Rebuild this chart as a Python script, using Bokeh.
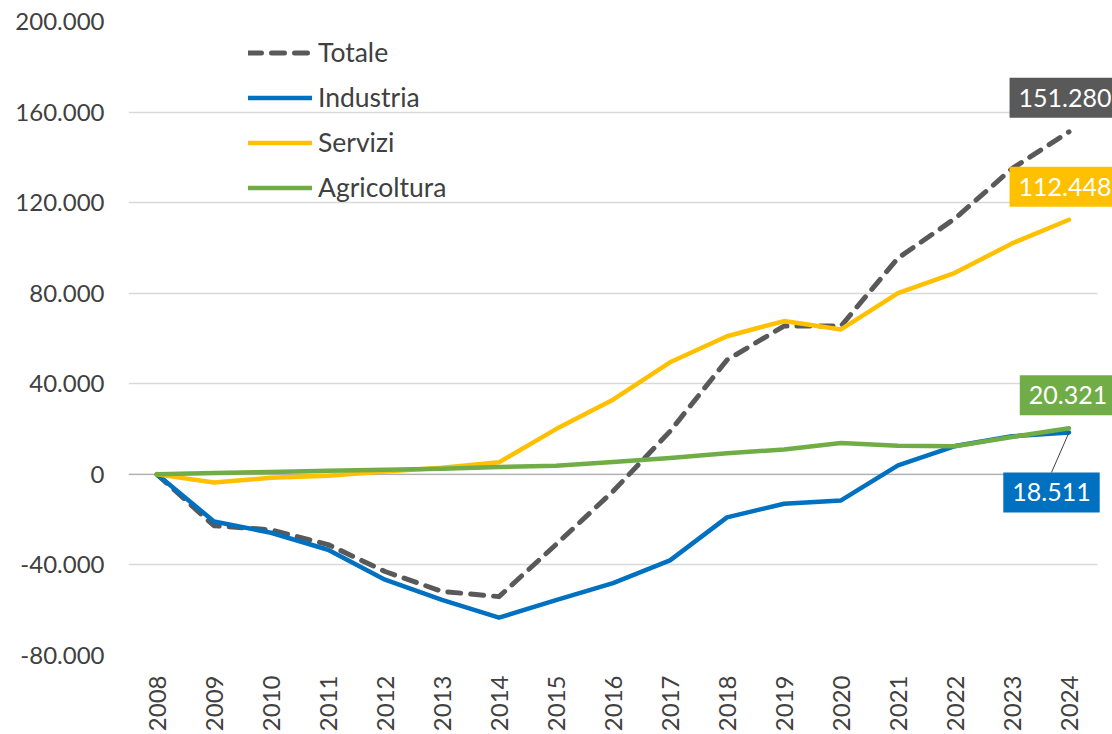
from math import pi
from bokeh.plotting import figure
from bokeh.models import (Range1d, FixedTicker, CustomJSTickFormatter, Label,
                          Legend, LegendItem, Span, BoxAnnotation)
from bokeh.embed import file_html
from bokeh.resources import INLINE

# ---------------- data ----------------
years = list(range(2008, 2025))
totale = [0, -22700, -24500, -31000, -42900, -51700, -54000, -31000, -7500,
          19000, 50500, 65500, 65500, 95500, 113000, 135000, 151280]
industria = [0, -20800, -25800, -33300, -46500, -55400, -63300, -55500, -48000,
             -38000, -19000, -13000, -11500, 4000, 12500, 16800, 18511]
servizi = [0, -3600, -1500, -600, 1300, 2900, 5300, 20000, 33000,
           49500, 61000, 67700, 64000, 80000, 89000, 102000, 112448]
agricoltura = [0, 600, 1000, 1600, 2000, 2500, 3300, 3800, 5500,
               7200, 9300, 11000, 13800, 12600, 12400, 16500, 20321]
y_ticks = [-80000, -40000, 0, 40000, 80000, 120000, 160000, 200000]
names = ["Totale", "Industria", "Servizi", "Agricoltura"]
end_labels = ["151.280", "18.511", "112.448", "20.321"]
colors = ["#595959", "#0070C0", "#FFC000", "#70AD47"]

FONT = "Lato"
TXT = "#404040"

plot_w, frame_h = 969, 634          # width of the category area, frame height
extra_r = 15                        # frame extends to canvas edge (for end labels)
y0, y1 = y_ticks[0], y_ticks[-1]
x_per_px = (years[-1] - years[0] + 1) / plot_w
y_per_px = (y1 - y0) / frame_h
x_start = years[0] - 0.5
x_stop = years[-1] + 0.5

p = figure(width=1112, height=732, frame_width=plot_w + extra_r, frame_height=frame_h,
           min_border_left=128, min_border_right=0, min_border_top=21,
           min_border_bottom=77, output_backend="svg", toolbar_location=None,
           x_range=Range1d(x_start, x_stop + extra_r * x_per_px),
           y_range=Range1d(y0, y1))
p.outline_line_color = None
p.background_fill_color = "white"
p.border_fill_color = "white"

# axes
p.xaxis.ticker = FixedTicker(ticks=years)
p.xaxis.major_label_orientation = pi / 2
p.xaxis.major_label_text_font = FONT
p.xaxis.major_label_text_font_size = "24px"
p.xaxis.major_label_text_color = TXT
p.xaxis.major_label_standoff = 20
p.xaxis.axis_line_color = None
p.xaxis.major_tick_line_color = None
p.xaxis.minor_tick_line_color = None
p.xaxis.major_tick_out = 0
p.xaxis.major_tick_in = 0

p.yaxis.ticker = FixedTicker(ticks=y_ticks)
p.yaxis.formatter = CustomJSTickFormatter(
    code="return tick.toLocaleString('en-US').replace(/,/g, '.')")
p.yaxis.major_label_text_font = FONT
p.yaxis.major_label_text_font_size = "24px"
p.yaxis.major_label_text_color = TXT
p.yaxis.major_label_standoff = 24
p.yaxis.axis_line_color = None
p.yaxis.major_tick_line_color = None
p.yaxis.minor_tick_line_color = None
p.yaxis.major_tick_out = 0
p.yaxis.major_tick_in = 0

p.xgrid.grid_line_color = None
p.ygrid.grid_line_color = "#D9D9D9"
p.ygrid.grid_line_width = 1.3
p.ygrid.ticker = FixedTicker(ticks=y_ticks)

zero = Span(location=0, dimension="width", line_color="#B0B0B0", line_width=1.3,
            level="underlay")
p.add_layout(zero)

# white mask so gridlines stop at the end of the category area
p.add_layout(BoxAnnotation(left=x_stop, fill_color="white", fill_alpha=1,
                           line_color=None, level="underlay"))

# lines (order: Totale bottom ... Agricoltura top)
r_tot = p.line(years, totale, line_color=colors[0], line_width=5,
               line_dash="13 10", line_cap="round", line_join="round")
r_ind = p.line(years, industria, line_color=colors[1], line_width=4.5,
               line_join="round", line_cap="round")
r_ser = p.line(years, servizi, line_color=colors[2], line_width=4.5,
               line_join="round", line_cap="round")
r_agr = p.line(years, agricoltura, line_color=colors[3], line_width=4.5,
               line_join="round", line_cap="round")
renderers = [r_tot, r_ind, r_ser, r_agr]

# legend
legend = Legend(items=[LegendItem(label=n, renderers=[r]) for n, r in zip(names, renderers)],
                location=(120, 452), orientation="vertical",
                glyph_width=64, glyph_height=31, label_height=31, label_standoff=6,
                spacing=13, padding=0, margin=0,
                label_text_font=FONT, label_text_font_size="26.5px",
                label_text_color=TXT, border_line_color=None,
                background_fill_alpha=0)
p.add_layout(legend, "center")

# leader line for the Industria end label (screen offsets converted to data units)
p.segment(x0=[years[-1]], y0=[industria[-1]],
          x1=[years[-1] - 17.5 * x_per_px], y1=[industria[-1] - 40 * y_per_px],
          line_color="#404040", line_width=1)

# end labels
series_end = [totale[-1], industria[-1], servizi[-1], agricoltura[-1]]
offsets = [(-4, 34), (-17.5, -60), (-4, 33), (-1, 33)]
for val, txt, col, (dx, dy) in zip(series_end, end_labels, colors, offsets):
    p.add_layout(Label(x=years[-1], y=val, x_offset=dx, y_offset=dy, text=txt,
                       text_align="center", text_baseline="middle",
                       text_font=FONT, text_font_size="25px", text_color="white",
                       background_fill_color=col, padding=(9, 11)))

open("out.html", "w").write(file_html(p, INLINE))
